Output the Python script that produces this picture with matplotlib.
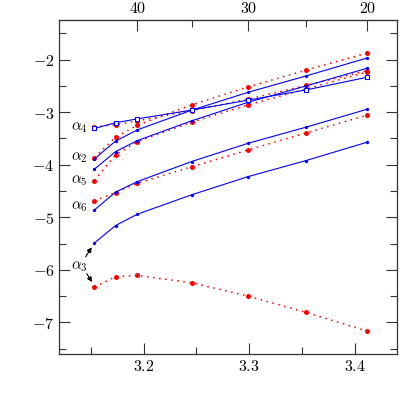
import matplotlib
matplotlib.use('Agg')
import matplotlib.pyplot as plt
import matplotlib.ticker as mticker
import numpy as np

plt.rcParams['mathtext.fontset'] = 'cm'
plt.rcParams['font.family'] = ['DejaVu Serif']

# x positions (bottom axis) and matching top-axis values
x = [3.1532, 3.1733, 3.1940, 3.2453, 3.2991, 3.3538, 3.4118]
top_vals = [44, 42, 40, 35, 30, 25, 20]

# blue = solid, red = dotted
a4_blue = [-3.31, -3.20, -3.127, -2.96, -2.77, -2.576, -2.335]
a4_red = [-3.28, -3.24, -3.165, -2.97, -2.75, -2.49, -2.21]
a2_blue = [-3.89, -3.55, -3.336, -2.962, -2.62, -2.31, -1.968]
a2_red = [-3.863, -3.475, -3.247, -2.86, -2.519, -2.20, -1.873]
a5_blue = [-4.084, -3.75, -3.54, -3.165, -2.81, -2.50, -2.163]
a5_red = [-4.30, -3.81, -3.56, -3.19, -2.86, -2.56, -2.234]
a6_blue = [-4.86, -4.52, -4.32, -3.939, -3.59, -3.285, -2.943]
a6_red = [-4.687, -4.53, -4.35, -4.04, -3.717, -3.394, -3.057]
a3_blue = [-5.49, -5.156, -4.94, -4.572, -4.224, -3.92, -3.570]
a3_red = [-6.321, -6.131, -6.106, -6.245, -6.498, -6.81, -7.164]


def interp_ext(v, xp, fp):
    # piecewise linear, extended linearly past both ends
    v = np.asarray(v, dtype=float)
    shape = v.shape
    v = np.atleast_1d(v)
    out = np.interp(v, xp, fp)
    lo = v < xp[0]
    hi = v > xp[-1]
    out[lo] = fp[0] + (v[lo] - xp[0]) * (fp[1] - fp[0]) / (xp[1] - xp[0])
    out[hi] = fp[-1] + (v[hi] - xp[-1]) * (fp[-1] - fp[-2]) / (xp[-1] - xp[-2])
    return out.reshape(shape)


fig = plt.figure(figsize=(3.99, 3.99), dpi=100)
ax = fig.add_axes([0.1486, 0.1128, 0.8464, 0.8372])

for ys in [a4_red, a2_red, a5_red, a6_red, a3_red]:
    ax.plot(x, ys, linestyle=(0, (1, 3)), color='red', lw=1.1,
            marker='o', ms=3.6, mew=0)
for ys in [a2_blue, a5_blue, a6_blue, a3_blue]:
    ax.plot(x, ys, '-', color='blue', lw=0.8, marker='o', ms=2.4, mew=0)
ax.plot(x, a4_blue, '-', color='blue', lw=0.8, marker='s', ms=3.2,
        mfc='white', mec='blue', mew=0.8)

ax.set_xlim(3.12, 3.44)
ax.set_ylim(-7.6, -1.245)

fs = 11
ax.text(3.1393, -3.30, r'$\alpha_4$', fontsize=fs, ha='center', va='center')
ax.text(3.1393, -3.87, r'$\alpha_2$', fontsize=fs, ha='center', va='center')
ax.text(3.1393, -4.31, r'$\alpha_5$', fontsize=fs, ha='center', va='center')
ax.text(3.1393, -4.79, r'$\alpha_6$', fontsize=fs, ha='center', va='center')
ax.text(3.1393, -5.93, r'$\alpha_3$', fontsize=fs, ha='center', va='center')
ax.annotate('', xy=(3.1507, -5.57), xytext=(3.1450, -5.75),
            arrowprops=dict(arrowstyle='-|>', color='black', lw=0.8,
                            mutation_scale=7, shrinkA=0, shrinkB=0))
ax.annotate('', xy=(3.1510, -6.23), xytext=(3.1460, -6.07),
            arrowprops=dict(arrowstyle='-|>', color='black', lw=0.8,
                            mutation_scale=7, shrinkA=0, shrinkB=0))

mathfmt = mticker.FuncFormatter(lambda v, p: r'$%g$' % v)

ax.xaxis.set_major_locator(mticker.FixedLocator([3.2, 3.3, 3.4]))
ax.xaxis.set_minor_locator(mticker.FixedLocator([3.15, 3.25, 3.35]))
ax.yaxis.set_major_locator(mticker.MultipleLocator(1))
ax.yaxis.set_minor_locator(mticker.MultipleLocator(0.5))
ax.xaxis.set_major_formatter(mathfmt)
ax.yaxis.set_major_formatter(mathfmt)
ax.tick_params(which='both', direction='in', right=True, top=False,
               labelsize=11.5, width=0.8, color='#333333')
ax.tick_params(which='major', length=8)
ax.tick_params(which='minor', length=5)
ax.tick_params(axis='x', pad=3)

# top axis: same points, other variable
xs_arr = np.array(x)
tv_arr = np.array(top_vals, dtype=float)
fwd = lambda v: interp_ext(v, xs_arr, tv_arr)
inv = lambda t: interp_ext(t, tv_arr[::-1], xs_arr[::-1])
top = ax.secondary_xaxis('top', functions=(fwd, inv))
top.xaxis.set_major_locator(mticker.FixedLocator([40, 30, 20]))
top.xaxis.set_minor_locator(mticker.FixedLocator([35, 25]))
top.xaxis.set_major_formatter(mathfmt)
top.tick_params(which='both', direction='in', labelsize=11.5, width=0.8,
                color='#333333', pad=2)
top.tick_params(which='major', length=8)
top.tick_params(which='minor', length=5)

for s in ax.spines.values():
    s.set_linewidth(0.9)
    s.set_color('#333333')

fig.savefig('out.png', dpi=100)
